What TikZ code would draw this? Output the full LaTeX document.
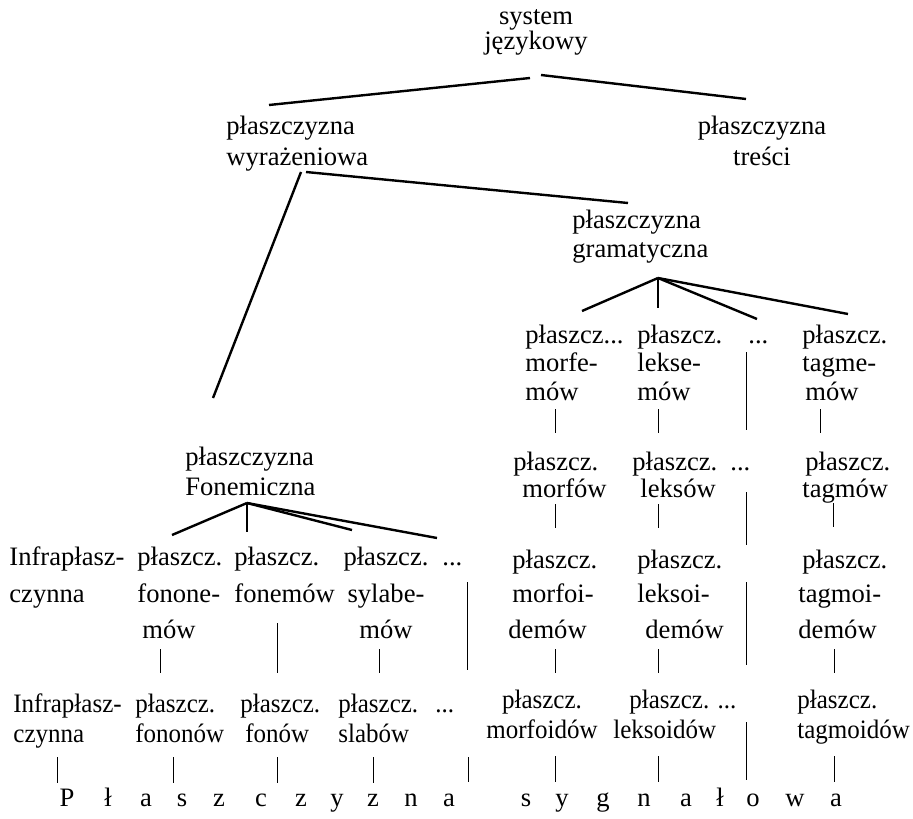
\documentclass[tikz,border=0pt]{standalone}
\usepackage{fontspec}
\setmainfont{Liberation Serif}
% one- or multi-line labels, baseline of the first line at the node's base
\newcommand\Lstack[1]{\begin{tabular}[t]{@{}l@{}}#1\end{tabular}}
\newcommand\Cstack[1]{\begin{tabular}[t]{@{}c@{}}#1\end{tabular}}
\begin{document}
\begin{tikzpicture}[x=0.5pt,y=-0.5pt,
  lbl/.style={anchor=base west,inner sep=0pt,font=\fontsize{13.3}{15}\selectfont},
  clbl/.style={lbl,anchor=base},
  narrow/.style={font=\fontsize{13.3}{15}\selectfont\addfontfeature{FakeStretch=0.94}},
  branch/.style={line width=1.2pt},
  tick/.style={line width=0.5pt}]
\fill[white] (0,0) rectangle (913,818);
\useasboundingbox (0,0) rectangle (913,818);

% ---- upper levels
\node[clbl] (sys) at (536,25) {\Cstack{system\\[-2.5pt]językowy}};
\node[lbl] (wyr) at (226,135) {\Lstack{płaszczyzna\\wyrażeniowa}};
\node[clbl] (tresci) at (762,135) {\Cstack{płaszczyzna\\treści}};
\node[lbl] (gram) at (572,228) {\Lstack{płaszczyzna\\[-0.5pt]gramatyczna}};
\node[lbl] (fonem) at (185,465) {\Lstack{płaszczyzna\\Fonemiczna}};

% ---- phonemic branch, first row
\node[lbl] (infraA) at (9,565) {\Lstack{Infrapłasz-\\[3.5pt]czynna}};
\node[lbl] (fononem) at (137,565) {\Lstack{płaszcz.\\[3.5pt]fonone-\\[3pt]\hspace*{2.5pt}mów}};
\node[lbl] (fonemow) at (234,565) {\Lstack{płaszcz.\\[3.5pt]fonemów}};
\node[clbl] (sylabem) at (386,565) {\Cstack{płaszcz.\\[3.5pt]sylabe-\\[3pt]mów}};
\node[lbl] (dotsA) at (442,565) {...};

% ---- phonemic branch, second row
\node[lbl,narrow] (infraB) at (13,712) {\Lstack{Infrapłasz-\\czynna}};
\node[lbl,narrow] (fonon) at (135,712) {\Lstack{płaszcz.\\fononów}};
\node[lbl,narrow] (fonow) at (240,712) {\Lstack{płaszcz.\\\hspace*{2.5pt}fonów}};
\node[lbl,narrow] (slabow) at (338,712) {\Lstack{płaszcz.\\slabów}};
\node[lbl,narrow] (dotsB) at (435,712) {...};

% ---- grammatical branch
\node[lbl] (morfem) at (525,343) {\Lstack{płaszcz...\\[-0.75pt]morfe-\\[-0.75pt]mów}};
\node[lbl] (leksem) at (637,343) {\Lstack{płaszcz.\\[-0.75pt]lekse-\\[-0.75pt]mów}};
\node[lbl] (dotsG) at (748,343) {...};
\node[lbl] (tagmem) at (802,343) {\Lstack{płaszcz.\\[-0.75pt]tagme-\\[-0.75pt]\hspace*{1.5pt}mów}};

\node[lbl] (morf) at (513,470) {\Lstack{płaszcz.\\[-1.5pt]\hspace*{4.5pt}morfów}};
\node[lbl] (leks) at (632,470) {\Lstack{płaszcz.\\[-1.5pt]\hspace*{4pt}leksów}};
\node[lbl] (dotsH) at (730,470) {...};
\node[lbl] (tagm) at (802,470) {\Lstack{\hspace*{1.5pt}płaszcz.\\[-1.5pt]tagmów}};

\node[lbl] (morfoidem) at (508,568) {\Lstack{\hspace*{2pt}płaszcz.\\[2pt]\hspace*{2pt}morfoi-\\[3pt]demów}};
\node[lbl] (leksoidem) at (637,568) {\Lstack{płaszcz.\\[2pt]leksoi-\\[3pt]\hspace*{4pt}demów}};
\node[lbl] (tagmoidem) at (798,568) {\Lstack{\hspace*{2pt}płaszcz.\\[2pt]tagmoi-\\[3pt]demów}};

\node[clbl,narrow] (morfoid) at (542,708) {\Cstack{płaszcz.\\morfoidów}};
\node[lbl,narrow] (leksoid) at (613,708) {\Lstack{\hspace*{8pt}płaszcz. ...\\leksoidów}};
\node[lbl,narrow] (tagmoid) at (797,708) {\Lstack{płaszcz.\\tagmoidów}};

% ---- spaced-out base label
\foreach \ch/\x [count=\i] in {P/67,ł/108,a/146,s/182,z/219,c/261,z/301,y/337,z/373,n/411,a/449,
                               s/526,y/562,g/603,n/644,a/686,ł/720,o/753,w/795,a/836}
  \node[clbl] (sig\i) at (\x,806) {\ch};

% ---- tree branches
\coordinate (sysL) at (530,78);   \coordinate (wyrT) at (269,105);
\coordinate (sysR) at (541,75);   \coordinate (treT) at (746,99);
\coordinate (wyrR) at (306,172);  \coordinate (graT) at (628,203);
\coordinate (wyrL) at (301,172);  \coordinate (fonT) at (213,398);
\draw[branch] (sysL) -- (wyrT);
\draw[branch] (sysR) -- (treT);
\draw[branch] (wyrR) -- (graT);
\draw[branch] (wyrL) -- (fonT);

\coordinate (graB) at (658,278);
\coordinate (mfT) at (582,311);
\coordinate (lkT) at (658,308);
\coordinate (dgT) at (757,319);
\coordinate (tgT) at (848,314);
\foreach \t in {mfT,lkT,dgT,tgT} \draw[branch] (graB) -- (\t);

\coordinate (fonB) at (247,503);
\coordinate (fnT) at (172,535);
\coordinate (fmT) at (247,532);
\coordinate (syT) at (352,530);
\coordinate (daT) at (437,538);
\foreach \t in {fnT,fmT,syT,daT} \draw[branch] (fonB) -- (\t);

% ---- short vertical links between levels
\foreach \n/\x/\ya/\yb in {
   v1/555/409/433, v2/555/504/528, v3/555/649/673, v4/555/756/782,
   v5/658/409/433, v6/658/504/528, v7/658/649/673, v8/658/756/782,
   v9/746/352/430, v10/746/492/545, v11/746/582/665, v12/746/722/780,
   v13/820/409/433, v14/833/503/527, v15/834/649/673, v16/834/756/782,
   v17/160/649/673, v18/277/623/673, v19/379/649/673, v20/467/582/670,
   v21/57/757/783, v22/173/757/783, v23/277/757/783, v24/373/757/783, v25/468/757/782}
{
  \coordinate (\n a) at (\x,\ya);
  \coordinate (\n b) at (\x,\yb);
  \draw[tick] (\n a) -- (\n b);
}
\end{tikzpicture}
\end{document}
